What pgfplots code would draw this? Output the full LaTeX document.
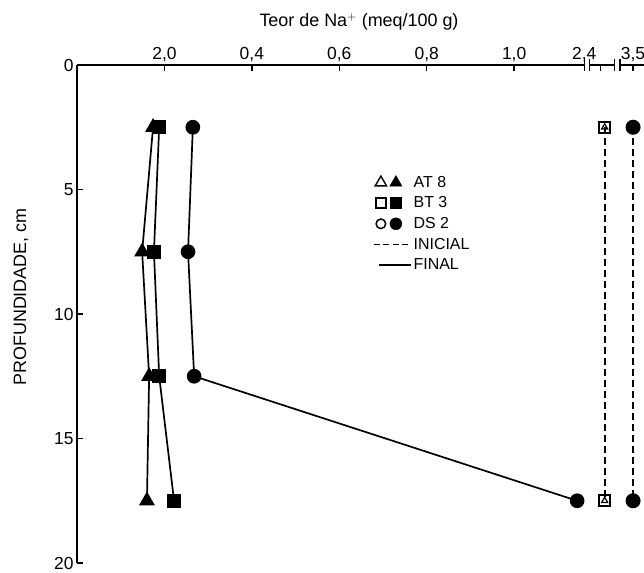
\documentclass[border=0pt]{standalone}
\usepackage{fontspec}
\setmainfont{Liberation Sans}
\usepackage{pgfplots}
\pgfplotsset{compat=1.18}
\usetikzlibrary{calc}
\begin{document}
\begin{tikzpicture}
\begin{axis}[name=ax,
 scale only axis, width=567bp, height=498bp,
 xmin=0, xmax=1.297, ymin=0, ymax=20, y dir=reverse,
 x coord trafo/.code={\pgfmathparse{(#1>2)*((#1<3)*(1.197+(#1-2.4)*0.2)+(#1>=3)*(1.272+(#1-3.5)*0.2))+(#1<=2)*(#1)}},
 axis x line=top, axis y line=left,
 axis line style={-, line width=1.8bp},
 clip=false,
 xtick={0.2,0.4,0.6,0.8,1.0,2.4,3.5},
 xticklabels={{2,0},{0,4},{0,6},{0,8},{1,0},{\makebox[0pt]{2,4\hspace{32bp}}},{3,5}},
 ytick={0,5,10,15,20},
 yticklabels={0,5,10,15,20},
 /pgf/number format/assume math mode=true,
 tick align=inside,
 major tick length=6bp,
 tick style={black, line width=1.4bp},
 ticklabel style={font=\fontsize{17.5}{20}\selectfont},
 legend style={at={(axis cs:0.670,4.3)}, anchor=north west, draw=none, fill=none,
   font=\fontsize{16}{19}\selectfont, row sep=4bp},
 legend cell align=left,
]
% legend (custom images, no data)
\addlegendimage{black, legend image code/.code={
  \draw[black, line width=1.4bp, fill=white] plot[mark=triangle, mark size=6.5bp] coordinates {(7bp,0bp)};
  \draw[black, fill=black] plot[mark=triangle*, mark size=7bp] coordinates {(22bp,0bp)};
  \path (0bp,-4bp) (37bp,4bp);
}}
\addlegendentry{AT 8}
\addlegendimage{black, legend image code/.code={
  \draw[black, line width=1.5bp, fill=white] plot[mark=square, mark size=5bp] coordinates {(7bp,0bp)};
  \draw[black, fill=black] plot[mark=square*, mark size=5.5bp] coordinates {(22bp,0bp)};
  \path (0bp,-4bp) (37bp,4bp);
}}
\addlegendentry{BT 3}
\addlegendimage{black, legend image code/.code={
  \draw[black, line width=1.5bp, fill=white] plot[mark=o, mark size=4.8bp] coordinates {(7bp,0bp)};
  \draw[black, fill=black] plot[mark=*, mark size=6bp] coordinates {(22bp,0bp)};
  \path (0bp,-4bp) (37bp,4bp);
}}
\addlegendentry{DS 2}
\addlegendimage{black, legend image code/.code={
  \draw[black, line width=1.6bp, dash pattern=on 6bp off 3.5bp] (0bp,0bp) -- (37bp,0bp);
}}
\addlegendentry{INICIAL}
\addlegendimage{black, legend image code/.code={
  \draw[black, line width=1.6bp] (5bp,0bp) -- (37bp,0bp);
  \path (0bp,0bp);
}}
\addlegendentry{FINAL}
% final profiles
\addplot[forget plot, black, line width=1.7bp, mark=triangle*, mark size=7.5bp, mark options={solid}]
  coordinates {(0.174,2.5)(0.149,7.5)(0.165,12.5)(0.160,17.5)};
\addplot[forget plot, black, line width=1.7bp, mark=square*, mark size=6bp, mark options={solid}]
  coordinates {(0.188,2.5)(0.176,7.5)(0.188,12.5)(0.222,17.5)};
\addplot[forget plot, black, line width=1.7bp, mark=*, mark size=6.5bp, mark options={solid}]
  coordinates {(0.265,2.5)(0.254,7.5)(0.268,12.5)(1.144,17.5)};
% initial profiles
\addplot[forget plot, black, line width=2bp, dash pattern=on 7bp off 4bp, mark=square, mark size=5.5bp, mark options={solid, fill=white, line width=2.2bp}]
  coordinates {(2.45,2.5)(2.45,17.5)};
\addplot[forget plot, black, only marks, mark=triangle, mark size=3.5bp, mark options={solid, fill=white, line width=1.2bp}]
  coordinates {(2.45,2.5)(2.45,17.5)};
\addplot[forget plot, black, line width=2bp, dash pattern=on 7bp off 4bp, mark=*, mark size=6.5bp, mark options={solid}]
  coordinates {(3.5,2.5)(3.5,17.5)};
% axis breaks
\fill[white] ([yshift=-4bp]axis cs:1.160,0) rectangle ([yshift=4bp]axis cs:1.174,0);
\draw[line width=1.4bp] ([yshift=-6bp]axis cs:1.161,0) -- ([yshift=6bp]axis cs:1.161,0);
\draw[line width=1.4bp] ([yshift=-6bp]axis cs:1.173,0) -- ([yshift=6bp]axis cs:1.173,0);
\fill[white] ([yshift=-4bp]axis cs:1.229,0) rectangle ([yshift=4bp]axis cs:1.243,0);
\draw[line width=1.4bp] ([yshift=-6bp]axis cs:1.230,0) -- ([yshift=6bp]axis cs:1.230,0);
\draw[line width=1.4bp] ([yshift=-6bp]axis cs:1.242,0) -- ([yshift=6bp]axis cs:1.242,0);
\end{axis}
\node[font=\fontsize{18}{21}\selectfont] at ([xshift=282bp, yshift=43bp]ax.north west) {Teor de Na$^{+}$ (meq/100 g)};
\node[font=\fontsize{18}{21}\selectfont, rotate=90] at ([xshift=-56bp, yshift=-232bp]ax.north west) {PROFUNDIDADE, cm};
\pgfresetboundingbox
\path[use as bounding box] ([xshift=-77bp, yshift=-10bp]ax.south west) rectangle ([yshift=65bp]ax.north east);
\end{tikzpicture}
\end{document}
